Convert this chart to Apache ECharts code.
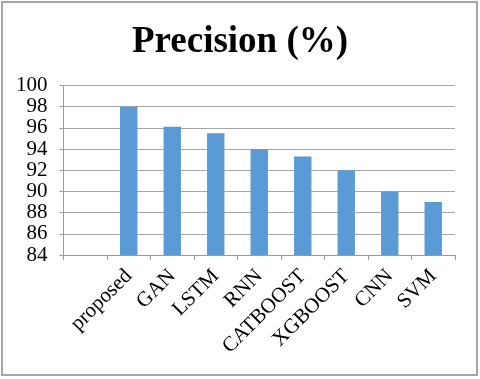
<!DOCTYPE html>
<html>
<head>
<meta charset="utf-8">
<script src="https://cdn.jsdelivr.net/npm/echarts@6/dist/echarts.min.js"></script>
<style>
  html, body { margin: 0; padding: 0; background: #fff; }
  #chart { width: 480px; height: 379px; }
</style>
</head>
<body>
<div id="chart"></div>
<script>
// first slot is left empty in the original figure
const categories = ['', 'proposed', 'GAN', 'LSTM', 'RNN', 'CATBOOST', 'XGBOOST', 'CNN', 'SVM']
const precision = [null, 98, 96.1, 95.5, 94, 93.3, 92, 90, 89]
const yMin = 84
const yMax = 100
const yStep = 2

const chart = echarts.init(document.getElementById('chart'))
const serif = '"Liberation Serif", "Times New Roman", serif'

const option = {
  animation: false,
  title: {
    text: 'Precision (%)',
    left: 'center',
    top: 19,
    textStyle: {
      fontFamily: serif,
      fontSize: 37,
      fontWeight: 'bold',
      color: '#000'
    }
  },
  graphic: [{
    type: 'rect',
    shape: { x: 2, y: 2, width: 475, height: 373 },
    style: { fill: 'none', stroke: '#a6a6a6', lineWidth: 2 },
    silent: true
  }],
  grid: {
    left: 63.5,
    right: 25,
    top: 85.5,
    bottom: 124
  },
  xAxis: {
    type: 'category',
    data: categories,
    axisLine: { lineStyle: { color: '#9a9a9a', width: 1 } },
    axisTick: { show: true, length: 5, alignWithLabel: false, lineStyle: { color: '#9a9a9a' } },
    axisLabel: {
      interval: 0,
      rotate: 45,
      margin: 18,
      fontFamily: serif,
      fontSize: 21,
      color: '#000'
    }
  },
  yAxis: {
    type: 'value',
    min: yMin,
    max: yMax,
    interval: yStep,
    axisLine: { show: true, lineStyle: { color: '#9a9a9a', width: 1 } },
    axisTick: { show: true, length: 4, inside: false, lineStyle: { color: '#9a9a9a' } },
    splitLine: { lineStyle: { color: '#a6a6a6', width: 1 } },
    axisLabel: {
      margin: 16,
      fontFamily: serif,
      fontSize: 21,
      color: '#000'
    }
  },
  series: [{
    type: 'bar',
    data: precision,
    barWidth: '40%',
    itemStyle: { color: '#5b9bd5' }
  }]
}

chart.setOption(option)
</script>
</body>
</html>
